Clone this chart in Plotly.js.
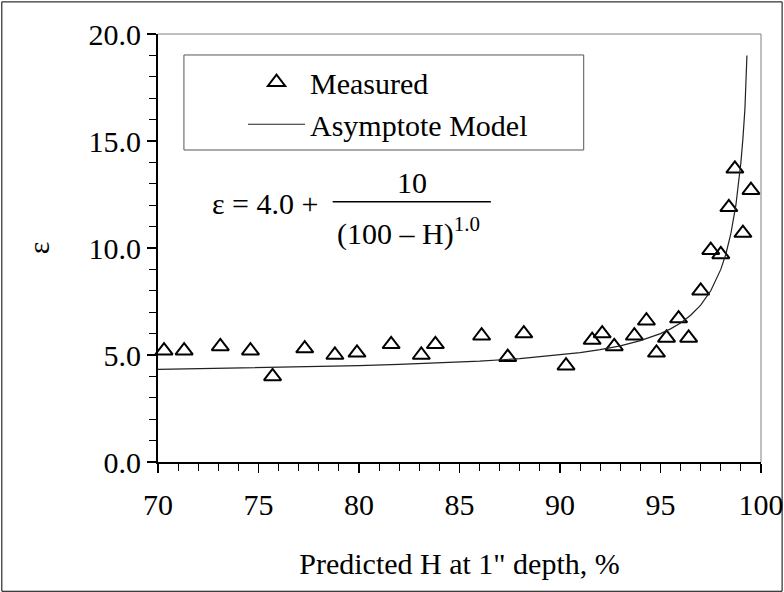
<!DOCTYPE html>
<html>
<head>
<meta charset="utf-8">
<script src="https://cdn.plot.ly/plotly-3.0.1.min.js"></script>
<style>html,body{margin:0;padding:0;background:#fff;}#chart{width:784px;height:592px;}</style>
</head>
<body>
<div id="chart"></div>
<script>
// Measured points (Predicted H at 1" depth, %  vs  epsilon)
const measuredH = [70.3, 71.3, 73.1, 74.6, 75.7, 77.3, 78.8, 79.9, 81.6, 83.1, 83.8,
                   86.1, 87.4, 88.2, 90.3, 91.6, 92.1, 92.7, 93.7, 94.3, 94.8, 95.3, 95.9, 96.4, 97.0,
                   97.5, 98.0, 98.4, 98.7, 99.1, 99.5];
const measuredE = [5.2, 5.2, 5.4, 5.2, 4.0, 5.3, 5.0, 5.1, 5.5, 5.0, 5.5,
                   5.9, 4.9, 6.0, 4.5, 5.7, 6.0, 5.4, 5.9, 6.6, 5.1, 5.8, 6.7, 5.8, 8.0,
                   9.9, 9.7, 11.9, 13.7, 10.7, 12.7];
// Asymptote model curve
const modelH = [70, 72, 74, 76, 78, 80, 82, 84, 86, 88, 90, 91, 92, 93, 94, 95, 95.5, 96, 96.5, 97, 97.5, 98, 98.25, 98.5, 98.75, 99, 99.1, 99.2, 99.3];
const modelE = [4.33, 4.36, 4.38, 4.42, 4.45, 4.5, 4.56, 4.63, 4.71, 4.83, 5.0, 5.11, 5.25, 5.43, 5.67, 6.0, 6.22, 6.5, 6.86, 7.33, 8.0, 9.0, 9.71, 10.67, 12.0, 14.0, 15.11, 16.5, 19.0];
const seriesNames = ["Measured", "Asymptote Model"];
const xTitle = 'Predicted H at 1" depth, %';
const yTitle = "ε";

const FONT = "Liberation Serif, Times New Roman, serif";

const traces = [
  {
    x: measuredH, y: measuredE, name: seriesNames[0], type: "scatter", mode: "markers",
    marker: {symbol: "triangle-up-open", size: 15, color: "#000", line: {color: "#000", width: 2}},
    cliponaxis: false
  },
  {
    x: modelH, y: modelE, name: seriesNames[1], type: "scatter", mode: "lines",
    line: {color: "#222", width: 1.2}
  }
];

const layout = {
  width: 784, height: 592,
  margin: {l: 158, r: 23, t: 34, b: 130},
  paper_bgcolor: "#fff", plot_bgcolor: "#fff",
  font: {family: FONT, size: 30, color: "#000"},
  showlegend: true,
  legend: {
    x: 0.141, y: 0.948, xanchor: "left", yanchor: "top",
    bgcolor: "rgba(0,0,0,0)", borderwidth: 0,
    font: {family: FONT, size: 30, color: "#000"},
    itemwidth: 57, tracegroupgap: 0
  },
  xaxis: {
    range: [70, 100], dtick: 5, tick0: 70,
    ticks: "outside", ticklen: 9, tickwidth: 1.5, tickcolor: "#000",
    showline: true, linecolor: "#000", linewidth: 2,
    showgrid: false, zeroline: false,
    minor: {dtick: 1, ticks: "outside", ticklen: 7, tickwidth: 1, tickcolor: "#000", showgrid: false},
    tickfont: {family: FONT, size: 30, color: "#000"},
    ticklabelstandoff: 6,
    title: {text: xTitle, font: {family: FONT, size: 30, color: "#000"}, standoff: 33},
    fixedrange: true
  },
  yaxis: {
    range: [0, 20], dtick: 5, tick0: 0, tickformat: ".1f",
    ticks: "outside", ticklen: 9, tickwidth: 1.5, tickcolor: "#000",
    showline: true, linecolor: "#000", linewidth: 2,
    showgrid: false, zeroline: false,
    minor: {dtick: 1, ticks: "outside", ticklen: 7, tickwidth: 1, tickcolor: "#000", showgrid: false},
    tickfont: {family: FONT, size: 30, color: "#000"},
    title: {text: yTitle, font: {family: FONT, size: 30, color: "#000"}, standoff: 30},
    fixedrange: true
  },
  shapes: [
    // outer chart border
    {type: "rect", xref: "paper", yref: "paper", x0: -0.259, x1: 1.035, y0: -0.302, y1: 1.075,
     line: {color: "#000", width: 1}, fillcolor: "rgba(0,0,0,0)", layer: "below"},
    // plot frame top and right (gray)
    {type: "line", xref: "paper", yref: "paper", x0: 0, x1: 1, y0: 1, y1: 1, line: {color: "#808080", width: 1}},
    {type: "line", xref: "paper", yref: "paper", x0: 1, x1: 1, y0: 0, y1: 1, line: {color: "#808080", width: 1}},
    // legend box
    {type: "rect", xref: "paper", yref: "paper", x0: 0.043, x1: 0.706, y0: 0.729, y1: 0.951,
     line: {color: "#555", width: 1}, fillcolor: "rgba(0,0,0,0)"},
    // fraction bar of the equation
    {type: "line", xref: "x", yref: "y", x0: 78.69, x1: 86.56, y0: 12.16, y1: 12.16, line: {color: "#000", width: 1.5}}
  ],
  annotations: [
    {xref: "x", yref: "y", x: 72.57, y: 12.1, xanchor: "left", yanchor: "middle", showarrow: false,
     text: "ε = 4.0 +", font: {family: FONT, size: 30, color: "#000"}},
    {xref: "x", yref: "y", x: 82.63, y: 13.08, xanchor: "center", yanchor: "middle", showarrow: false,
     text: "10", font: {family: FONT, size: 30, color: "#000"}},
    {xref: "x", yref: "y", x: 78.8, y: 10.75, xanchor: "left", yanchor: "middle", showarrow: false,
     text: "(100 – H)<sup>1.0</sup>", font: {family: FONT, size: 30, color: "#000"}}
  ]
};

Plotly.newPlot("chart", traces, layout, {displayModeBar: false, staticPlot: true});
</script>
</body>
</html>
